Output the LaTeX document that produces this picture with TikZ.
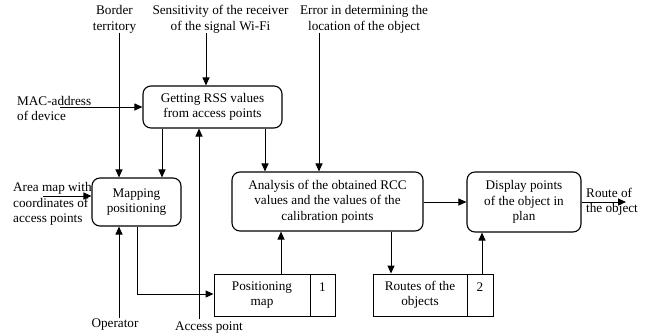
\documentclass[tikz,border=0pt]{standalone}
\usepackage{fontspec}
\setmainfont{Liberation Serif}
\usetikzlibrary{arrows.meta}
\begin{document}
\begin{tikzpicture}[x=1pt,y=-1pt,
  every node/.style={font=\fontsize{13.2}{15.5}\selectfont, inner sep=0pt},
  proc/.style={draw, line width=1.1pt, rounded corners=8pt, align=center},
  store/.style={draw, line width=0.9pt, align=center},
  lbl/.style={align=center},
  lbll/.style={align=left, anchor=west},
  arr/.style={-{Triangle[length=8pt,width=7pt]}, line width=1pt},
  ln/.style={line width=1pt}]
\useasboundingbox (0,0) rectangle (655,335);
% process boxes
\node[proc, minimum width=139pt, minimum height=42pt] (rss) at (212.5,107) {Getting RSS values\\from access points};
\node[proc, minimum width=89pt, minimum height=48pt] (map) at (136.5,202) {Mapping\\positioning};
\node[proc, minimum width=191pt, minimum height=59pt] (ana) at (327.5,201.5) {Analysis of the obtained RCC\\values and the values of the\\calibration points};
\node[proc, minimum width=114pt, minimum height=60pt] (disp) at (524,202) {Display points\\of the object in\\plan};
% stores
\node[store, minimum width=96pt, minimum height=42pt] (pm) at (262,295) {Positioning\\map};
\node[store, minimum width=25pt, minimum height=42pt] (pmn) at (322.5,295) {};
\node[anchor=center] (pmnum) at (322.5,287) {1};
\node[store, minimum width=94pt, minimum height=42pt] (ro) at (420,295) {Routes of the\\objects};
\node[store, minimum width=26pt, minimum height=42pt] (ron) at (480,295) {};
\node[anchor=center] (ronum) at (480,287) {2};
% labels
\node[lbl] (border) at (114.5,19.5) {Border\\territory};
\node[lbl] (sens) at (220.5,19.5) {Sensitivity of the receiver\\of the signal Wi-Fi};
\node[lbl] (err) at (364,19.5) {Error in determining the\\location of the object};
\node[lbll] (mac) at (17,108.5) {MAC-address\\of device};
\node[lbll] (area) at (13,204) {Area map with\\coordinates of\\access points};
\node[lbl] (oper) at (115,325) {Operator};
\node[lbl] (ap) at (209,328) {Access point};
\node[lbll] (route) at (586,202) {Route of\\the object};
% free ends
\coordinate (b1) at (119,33);
\coordinate (s1) at (206,33);
\coordinate (e1) at (319,33);
\coordinate (m1) at (60,107);
\coordinate (a1) at (43,196);
\coordinate (o1) at (119,318);
\coordinate (ap1) at (199,319);
\coordinate (r1) at (626,202);
% connectors
\draw[arr] (b1) -- (b1 |- map.north);
\draw[arr] (s1) -- (s1 |- rss.north);
\draw[arr] (e1) -- (e1 |- ana.north);
\draw[arr] (m1) -- (m1 -| rss.west);
\draw[arr] (a1) -- (a1 -| map.west);
\draw[arr] (o1) -- (o1 |- map.south);
\draw[arr] (ap1) -- (ap1 |- rss.south);
\draw[arr] (rss.south -| 162,0) -- (map.north -| 162,0);
\draw[arr] (rss.south -| 265,0) -- (ana.north -| 265,0);
\draw[arr] (map.south -| 137,0) |- (pm.west |- 0,294);
\draw[arr] (pm.north -| 281,0) -- (ana.south -| 281,0);
\draw[arr] (ana.east |- 0,202) -- (disp.west |- 0,202);
\draw[arr] (ana.south -| 391,0) -- (ro.north -| 391,0);
\draw[arr] (ro.north -| 482,0) -- (disp.south -| 482,0);
\draw[arr] (disp.east |- 0,202) -- (r1);
\end{tikzpicture}
\end{document}
